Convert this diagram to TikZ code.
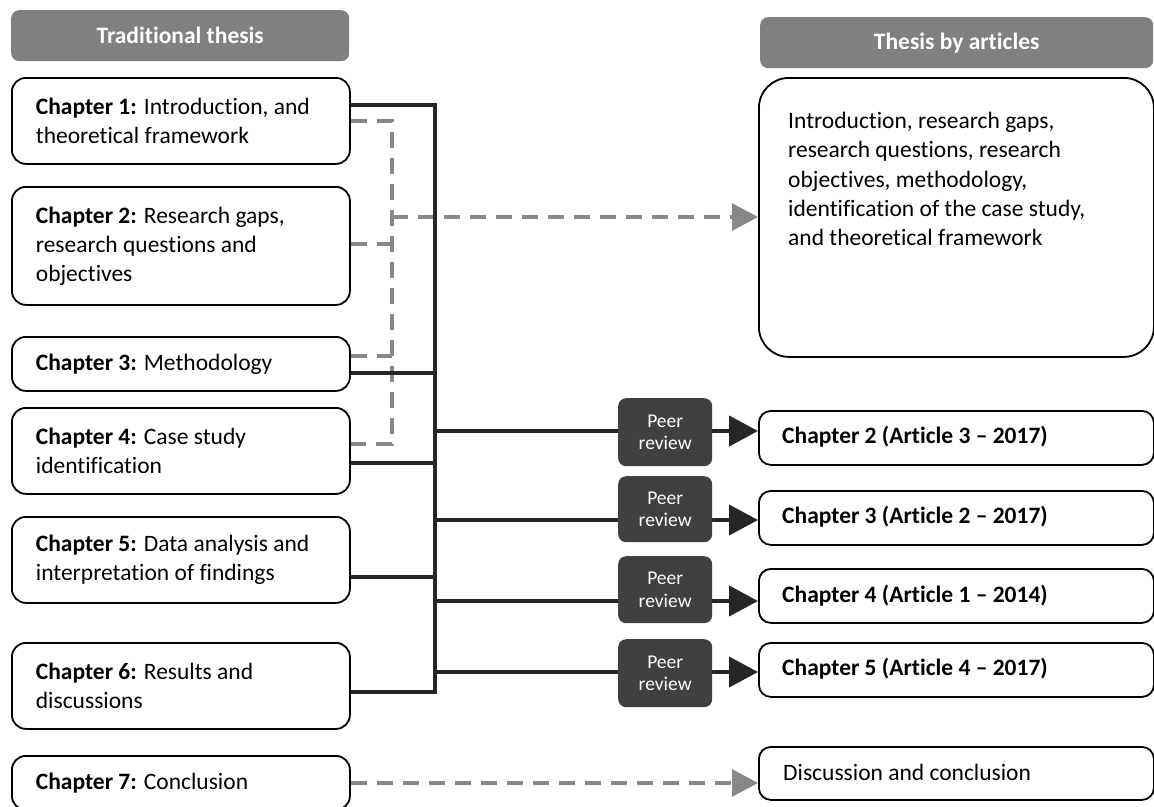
\documentclass[tikz,border=0pt]{standalone}
\usepackage{fontspec}
\setmainfont{Carlito}[Ligatures=NoCommon]
\usetikzlibrary{arrows.meta}
\definecolor{hdr}{HTML}{808080}
\definecolor{dk}{HTML}{262626}
\definecolor{pr}{HTML}{404040}
\definecolor{dg}{HTML}{888888}
\tikzset{
  chbox/.style={draw=black, line width=1.8pt, rounded corners=14pt, fill=white,
    text width=290pt, inner xsep=24pt, inner ysep=0pt, align=flush left, anchor=north west,
    font=\fontsize{23.5}{29}\selectfont},
  artbox/.style={draw=black, line width=1.8pt, rounded corners=12pt, fill=white,
    minimum width=395pt, minimum height=54pt, anchor=north west},
  hdrbox/.style={fill=hdr, rounded corners=8pt, text=white, anchor=north west,
    minimum height=51pt, font=\fontsize{23.5}{28}\selectfont\bfseries},
  peerbox/.style={fill=pr, rounded corners=8pt, text=white, anchor=north west,
    minimum width=94pt, align=center, inner sep=0pt,
    font=\fontsize{19.5}{22.5}\selectfont},
  txt/.style={anchor=west, inner sep=0pt, font=\fontsize{23.5}{29}\selectfont},
  busline/.style={draw=dk, line width=3.3pt},
  peerline/.style={draw=dk, line width=4.3pt},
  peerarrow/.style={draw=dk, line width=4.3pt, -{Triangle[length=29pt,width=30pt]}},
  dashline/.style={draw=dg, line width=3.3pt, dash pattern=on 16pt off 10pt},
  dasharrow/.style={draw=dg, line width=3.3pt, dash pattern=on 16pt off 10pt,
    -{Triangle[length=26pt,width=27pt]}}
}
\begin{document}
\begin{tikzpicture}[x=1pt, y=-1pt]
\useasboundingbox (0,0) rectangle (1154,806);

% headers
\node[hdrbox, minimum width=338pt] (h1) at (11,10) {Traditional thesis};
\node[hdrbox, minimum width=393pt] (h2) at (760,17) {Thesis by articles};

% traditional thesis chapters
\node[chbox, minimum height=86pt]  (c1) at (11,77)  {\textbf{Chapter 1:} Introduction, and\\theoretical framework};
\node[chbox, minimum height=118pt] (c2) at (11,186) {\textbf{Chapter 2:} Research gaps,\\research questions and\\objectives};
\node[chbox, minimum height=54pt]  (c3) at (11,336) {\textbf{Chapter 3:} Methodology};
\node[chbox, minimum height=86pt]  (c4) at (11,407) {\textbf{Chapter 4:} Case study\\identification};
\node[chbox, minimum height=86pt]  (c5) at (11,516) {\textbf{Chapter 5:} Data analysis and\\interpretation of findings};
\node[chbox, minimum height=86pt]  (c6) at (11,642) {\textbf{Chapter 6:} Results and\\discussions};
\node[chbox, minimum height=54pt]  (c7) at (11,755) {\textbf{Chapter 7:} Conclusion};

% thesis by articles
\node[artbox, minimum height=279pt, rounded corners=30pt] (a0) at (758,77) {};
\node[anchor=north west, inner sep=0pt, align=flush left, font=\fontsize{23.5}{29.3}\selectfont] (a0t) at (788,112)
  {Introduction, research gaps,\\research questions, research\\objectives, methodology,\\identification of the case study,\\and theoretical framework};
\node[artbox] (a2) at (758,410) {};
\node[txt] (a2t) at (782,437) {\textbf{Chapter 2 (Article 3 – 2017)}};
\node[artbox] (a3) at (758,490) {};
\node[txt] (a3t) at (782,517) {\textbf{Chapter 3 (Article 2 – 2017)}};
\node[artbox] (a4) at (758,568) {};
\node[txt] (a4t) at (782,596) {\textbf{Chapter 4 (Article 1 – 2014)}};
\node[artbox] (a5) at (758,642) {};
\node[txt] (a5t) at (782,669) {\textbf{Chapter 5 (Article 4 – 2017)}};
\node[artbox, minimum height=53pt] (d) at (758,746) {};
\node[txt] (dt) at (783,772) {Discussion and conclusion};

% peer review boxes
\node[peerbox, minimum height=68pt] (p1) at (618,398) {Peer\\review};
\node[peerbox, minimum height=66pt] (p2) at (618,476) {Peer\\review};
\node[peerbox, minimum height=67pt] (p3) at (618,556) {Peer\\review};
\node[peerbox, minimum height=68pt] (p4) at (618,639) {Peer\\review};

% dashed grey connectors
\coordinate (v1) at (392,121);
\coordinate (v2) at (392,244);
\coordinate (v3) at (392,356);
\coordinate (v4) at (392,444);
\coordinate (vm) at (392,217);
\draw[dashline] (c1.east|-v1) -- (v1) -- (v4) -- (c4.east|-v4);
\draw[dashline] (c2.east|-v2) -- (v2);
\draw[dashline] (c3.east|-v3) -- (v3);
\draw[dasharrow] (vm) -- (vm-|a0.west);
\coordinate (v7) at (349,783);
\draw[dasharrow] (c7.east|-v7) -- (v7-|d.west);

% solid bus
\coordinate (b1) at (435,105);
\coordinate (b3) at (435,373);
\coordinate (b4) at (435,463);
\coordinate (b5) at (435,577);
\coordinate (b6) at (435,692);
\draw[busline] (c1.east|-b1) -- (b1) -- (b6) -- (c6.east|-b6);
\draw[busline] (c3.east|-b3) -- (b3);
\draw[busline] (c4.east|-b4) -- (b4);
\draw[busline] (c5.east|-b5) -- (b5);

% lines to peer review and arrows to articles
\coordinate (l1) at (435,431);
\coordinate (l2) at (435,520);
\coordinate (l3) at (435,601);
\coordinate (l4) at (435,672);
\draw[peerline] (l1) -- (l1-|p1.west);
\draw[peerline] (l2) -- (l2-|p2.west);
\draw[peerline] (l3) -- (l3-|p3.west);
\draw[peerline] (l4) -- (l4-|p4.west);
\draw[peerarrow] (l1-|p1.east) -- (l1-|a2.west);
\draw[peerarrow] (l2-|p2.east) -- (l2-|a3.west);
\draw[peerarrow] (l3-|p3.east) -- (l3-|a4.west);
\draw[peerarrow] (l4-|p4.east) -- (l4-|a5.west);
\end{tikzpicture}
\end{document}
